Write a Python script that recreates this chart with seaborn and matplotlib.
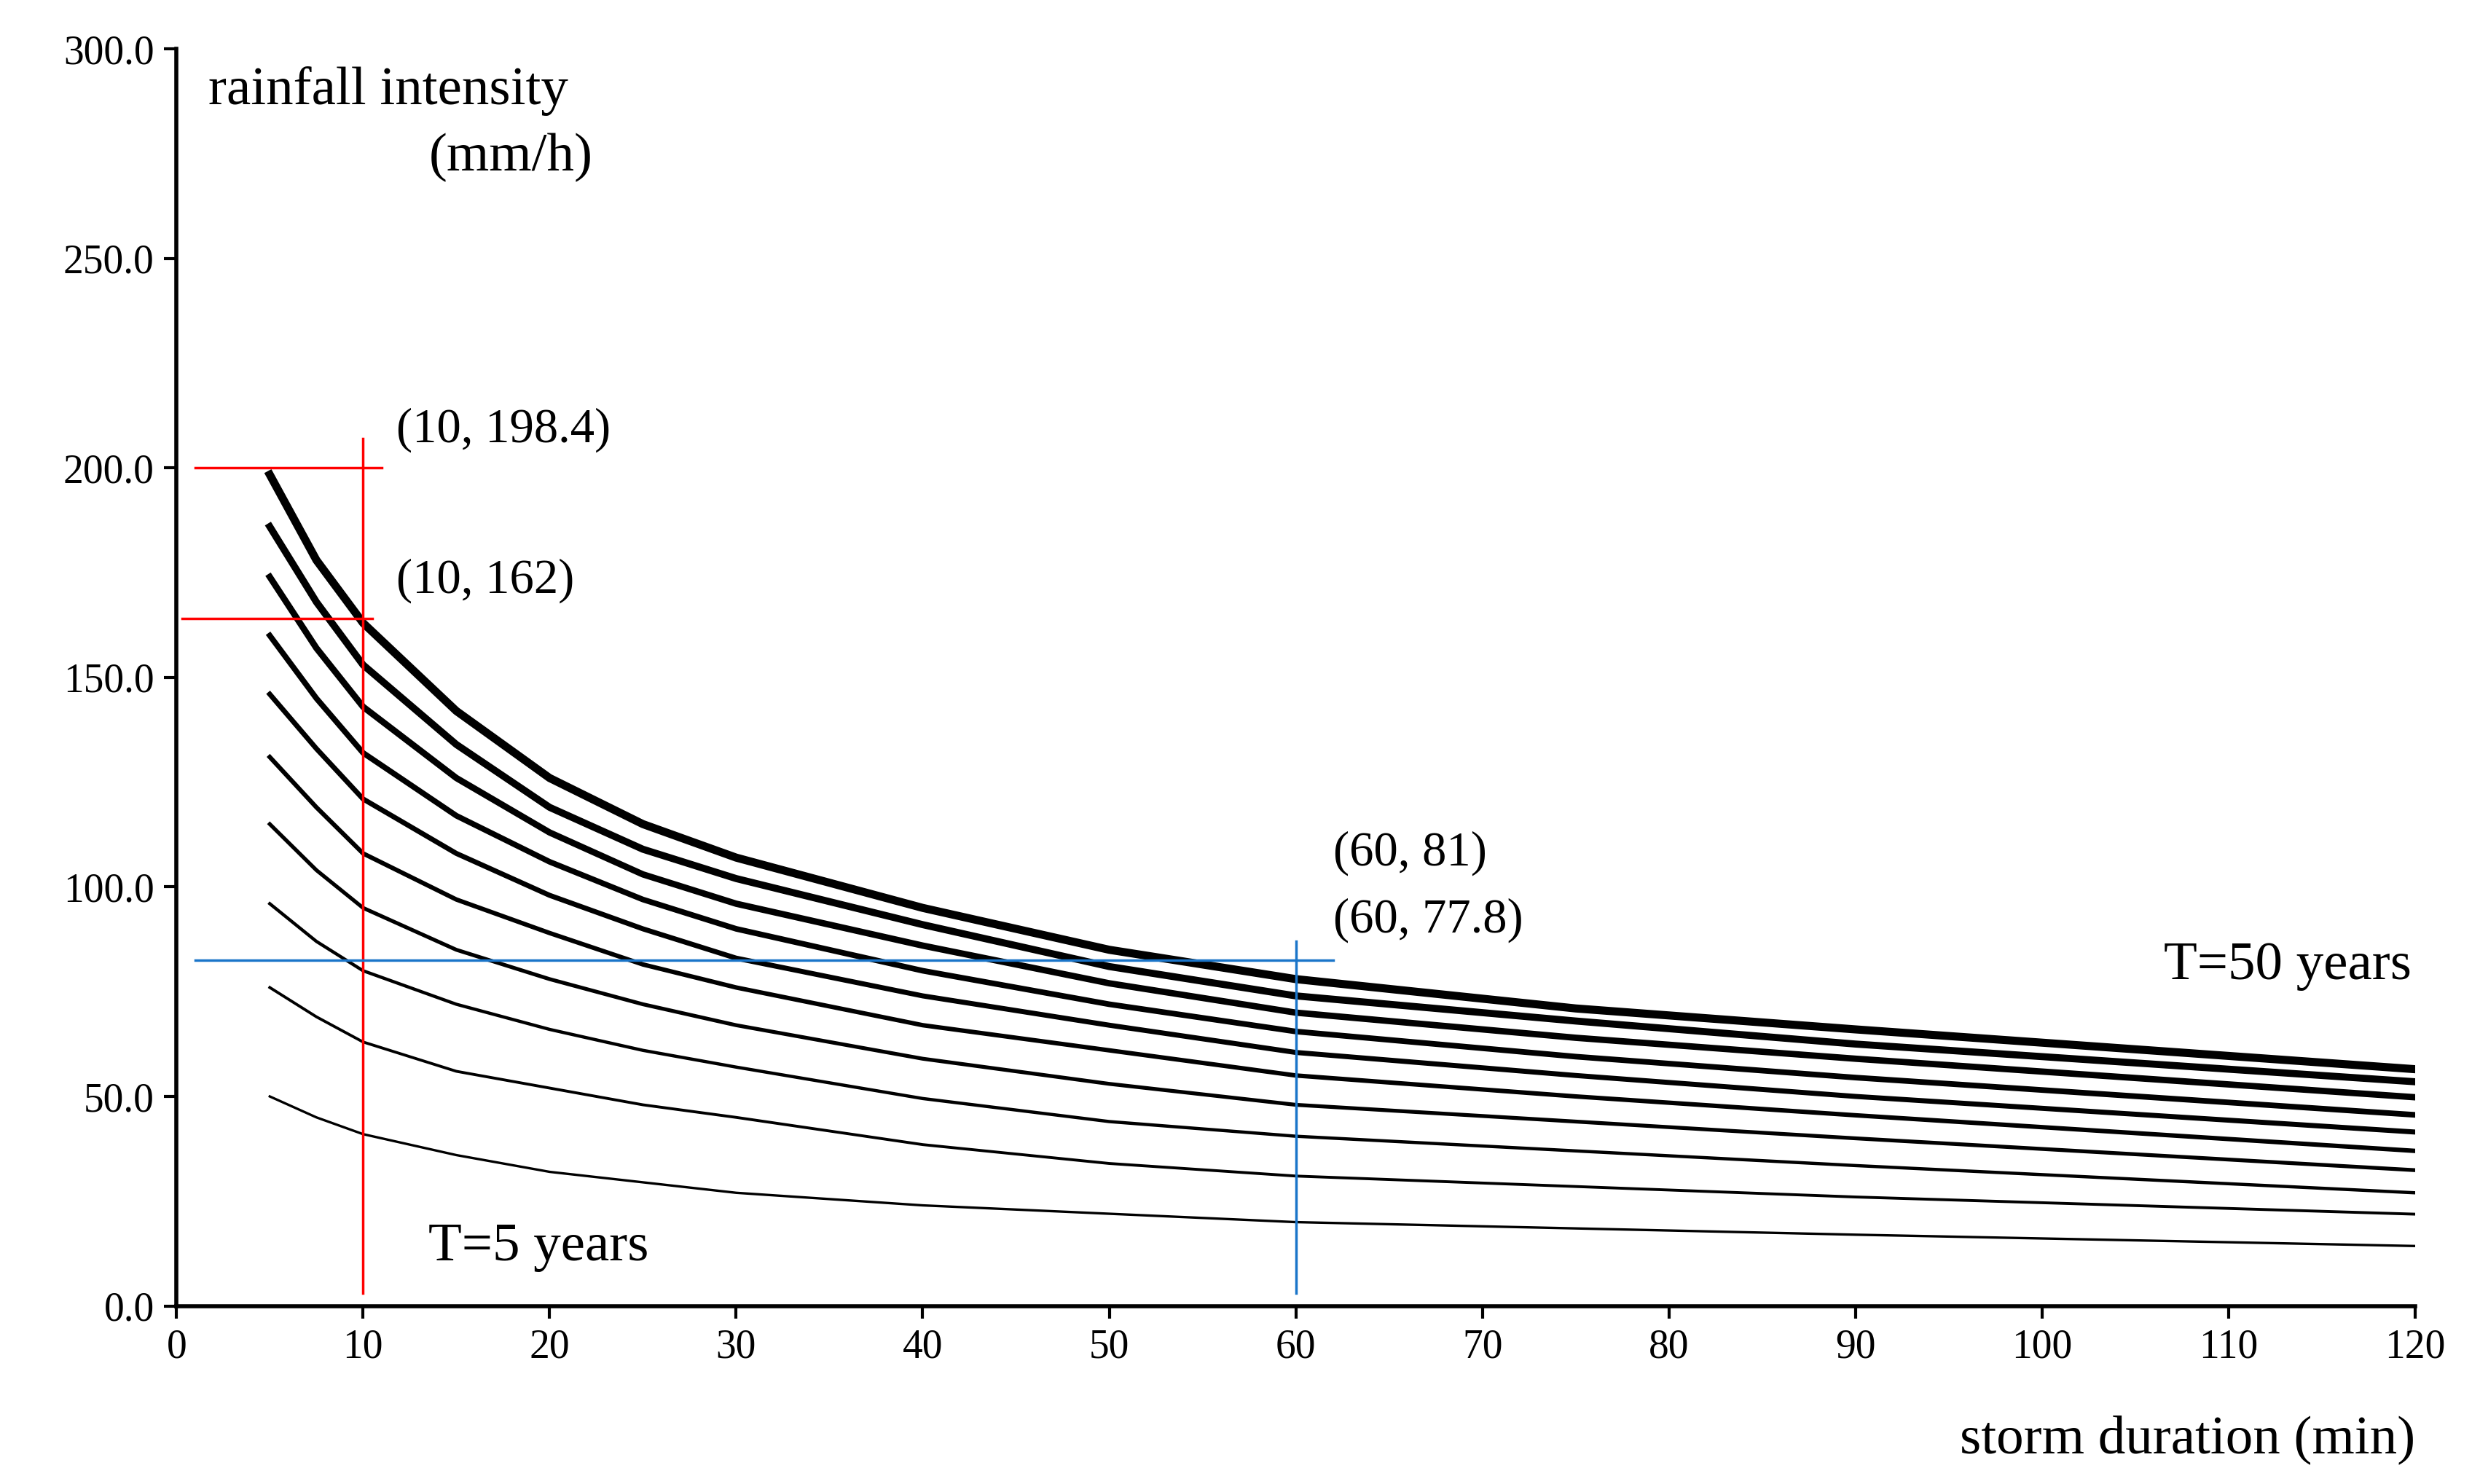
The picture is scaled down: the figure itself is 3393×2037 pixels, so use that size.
import matplotlib
matplotlib.use("Agg")
import matplotlib.pyplot as plt
import seaborn as sns
import pandas as pd

durations = [5, 7.5, 10, 15, 20, 25, 30, 40, 50, 60, 75, 90, 120]
# intensities (mm/h) for return periods, highest first (T=50 ... T=5)
T50 = [198.4, 178, 163, 142, 126, 115, 107, 95, 85, 78, 71, 66, 56.5]
T45 = [186, 168, 153, 134, 119, 109, 102, 91, 81, 74, 68, 62.5, 53.5]
T40 = [174, 157, 143, 126, 113, 103, 96, 86, 77, 70, 64, 59, 49.8]
T35 = [160, 145, 132, 117, 106, 97, 90, 80, 72, 65.5, 59.5, 54.5, 45.6]
T30 = [146, 133, 121, 108, 98, 90, 83, 74, 67, 60.5, 55, 50, 41.5]
T25 = [131, 119, 108, 97, 89, 81.5, 76, 67, 61, 55, 50, 45.5, 37]
T20 = [115, 104, 95, 85, 78, 72, 67, 59, 53, 48, 44, 40, 32.4]
T15 = [96, 87, 80, 72, 66, 61, 57, 49.5, 44, 40.5, 37, 33.5, 27]
T10 = [76, 69, 63, 56, 52, 48, 45, 38.5, 34, 31, 28.5, 26, 21.9]
T5 = [50, 45, 41, 36, 32, 29.5, 27, 24, 22, 20, 18.5, 17, 14.3]
series = [T50, T45, T40, T35, T30, T25, T20, T15, T10, T5]
widths = [8, 7, 6.3, 5.6, 5, 4.4, 3.8, 3.2, 2.8, 2.4]

xticks = list(range(0, 121, 10))
yticks = [0, 50, 100, 150, 200, 250, 300]

font = "Liberation Serif"
fig = plt.figure(figsize=(33.93, 20.37), dpi=100)
ax = fig.add_axes([0.0714, 0.120, 0.9056, 0.847])
for vals, lw in zip(series, widths):
    df = pd.DataFrame({"d": durations, "i": vals})
    sns.lineplot(data=df, x="d", y="i", ax=ax, color="black", linewidth=lw)

# guide lines
ax.plot([1, 11], [200, 200], color="red", lw=2.5)
ax.plot([0.3, 10.5], [164, 164], color="red", lw=2.5)
ax.plot([10, 10], [3, 207], color="red", lw=2.5)
ax.plot([1, 62], [82.5, 82.5], color="#1a75c9", lw=2.5)
ax.plot([60, 60], [3, 87], color="#1a75c9", lw=2.5)

fs = 48
ax.text(11.8, 209, "(10, 198.4)", fontsize=fs, family=font, va="center")
ax.text(11.8, 173, "(10, 162)", fontsize=fs, family=font, va="center")
ax.text(62, 108, "(60, 81)", fontsize=fs, family=font, va="center")
ax.text(62, 92, "(60, 77.8)", fontsize=fs, family=font, va="center")
ax.text(119.8, 81, "T=50 years", fontsize=54, family=font, va="center", ha="right")
ax.text(13.5, 14, "T=5 years", fontsize=54, family=font, va="center")
ax.text(1.7, 290, "rainfall intensity", fontsize=54, family=font, va="center")
ax.text(22.3, 274, "(mm/h)", fontsize=54, family=font, va="center", ha="right")
ax.text(120, -32, "storm duration (min)", fontsize=54, family=font, va="center", ha="right")

ax.set_xlim(0, 120)
ax.set_ylim(0, 300)
ax.set_xticks(xticks)
ax.set_yticks(yticks)
ax.set_xticklabels([str(t) for t in xticks], fontsize=40, family=font)
ax.set_yticklabels([f"{t:.1f}" for t in yticks], fontsize=40, family=font)
ax.set_xlabel("")
ax.set_ylabel("")
for s in ["top", "right"]:
    ax.spines[s].set_visible(False)
for s in ["left", "bottom"]:
    ax.spines[s].set_linewidth(4)
ax.tick_params(axis="both", width=3, length=12, direction="out", pad=10)
fig.savefig("out.png", dpi=100)
